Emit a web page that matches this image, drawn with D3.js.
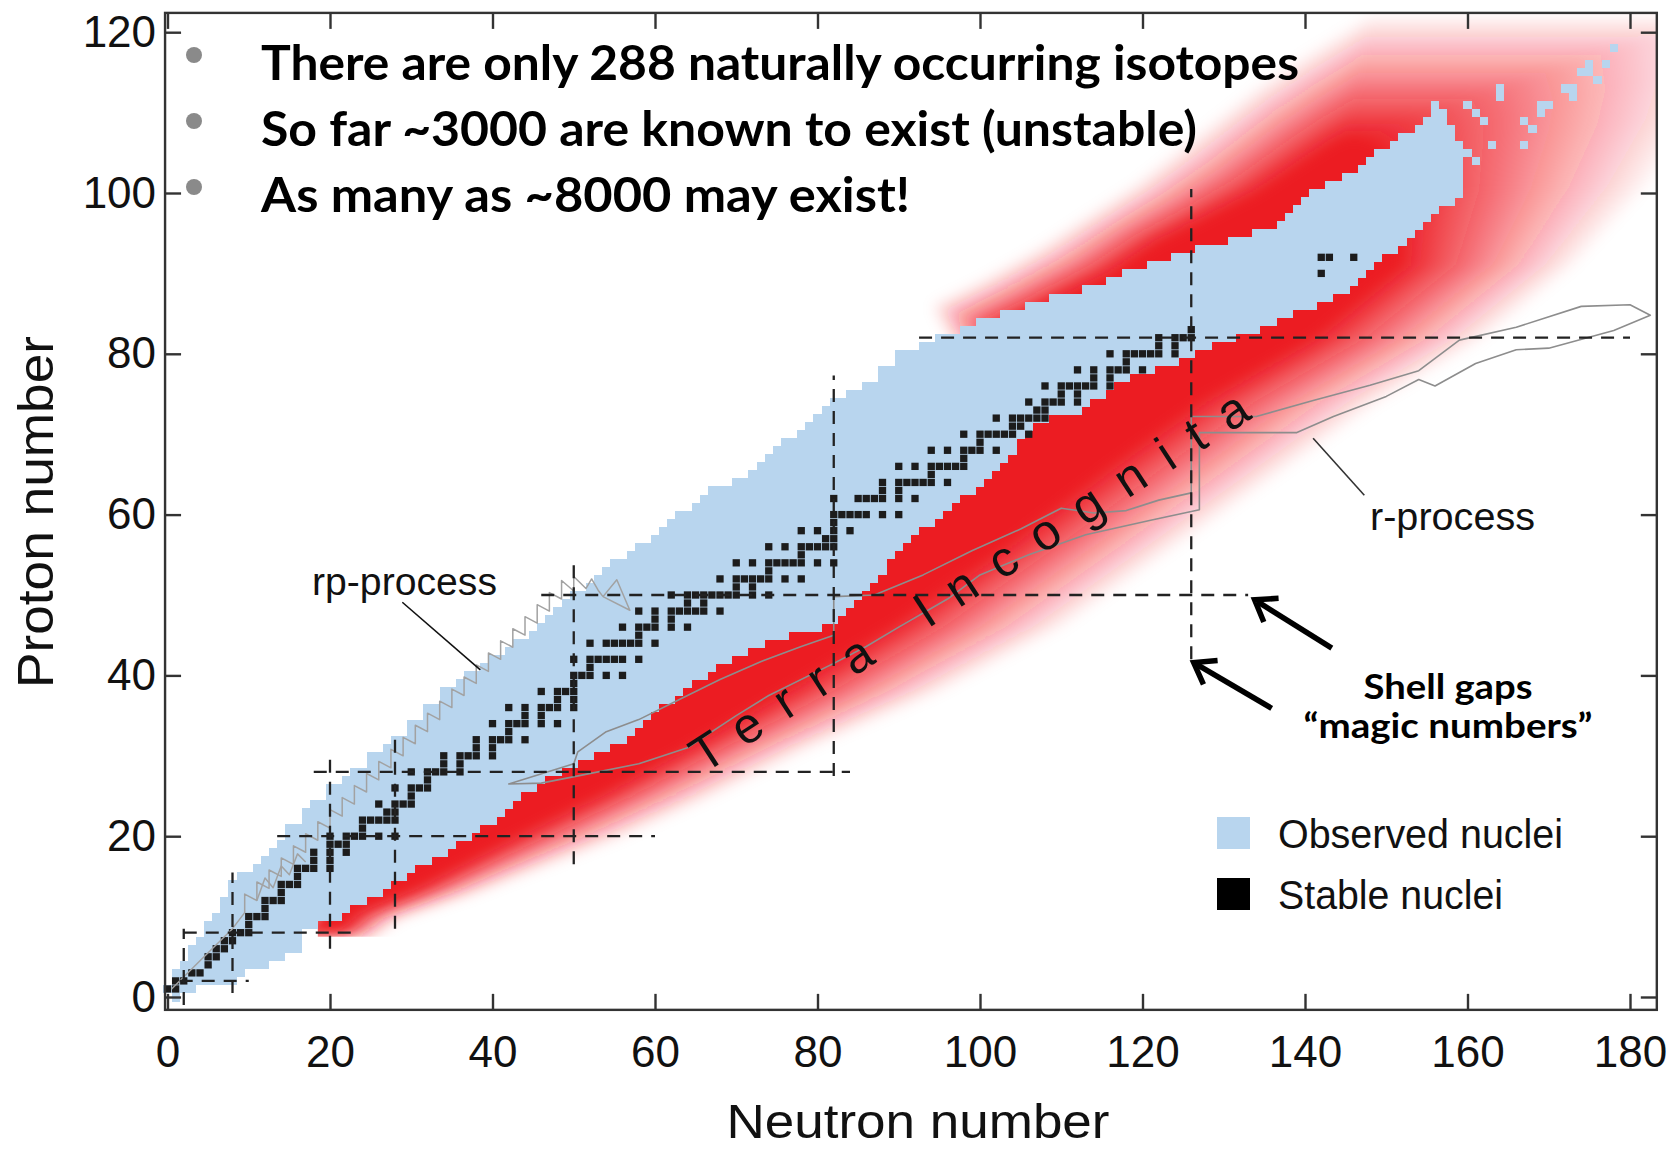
<!DOCTYPE html>
<html>
<head>
<meta charset="utf-8">
<title>Chart of nuclides</title>
<script src="https://cdn.jsdelivr.net/npm/d3@7"></script>
<style>
html,body{margin:0;padding:0;background:#fff;}
svg{display:block;}
</style>
</head>
<body>
<svg id="chart" width="1672" height="1149"></svg>
<script>
// ---------------- data ----------------
const xTicks = [0, 20, 40, 60, 80, 100, 120, 140, 160, 180];
const yTicks = [0, 20, 40, 60, 80, 100, 120];

// Observed nuclei: lightest / heaviest neutron number for each proton number Z = 0..110
const obsNmin = [
  1, 0, 1, 1, 2, 3, 3, 4, 5, 5,
  6, 7, 7, 8, 8, 9, 11, 12, 13, 14,
  15, 15, 17, 17, 18, 20, 20, 22, 23, 25,
  25, 27, 28, 30, 30, 32, 32, 34, 34, 36,
  37, 39, 40, 42, 43, 45, 46, 47, 48, 49,
  50, 52, 53, 54, 55, 57, 58, 60, 61, 62,
  63, 65, 66, 67, 70, 72, 73, 74, 75, 76,
  78, 79, 80, 81, 82, 84, 86, 88, 88, 90,
  90, 93, 95, 98, 100, 103, 106, 109, 113, 116,
  118, 121, 124, 127, 131, 134, 137, 138, 139, 140,
  141, 143, 145, 147, 148, 149, 151, 152, 154, 155,
  157
];
const obsNmax = [
  1, 3, 8, 9, 12, 14, 16, 16, 16, 18,
  21, 22, 24, 26, 27, 29, 30, 32, 34, 35,
  37, 38, 40, 41, 42, 43, 45, 46, 48, 50,
  52, 54, 56, 57, 58, 59, 60, 62, 63, 64,
  66, 67, 69, 71, 73, 76, 80, 82, 83, 84,
  85, 86, 87, 88, 88, 89, 90, 91, 92, 94,
  95, 96, 97, 99, 100, 101, 102, 103, 104, 104,
  105, 106, 108, 112, 113, 115, 116, 118, 121, 124,
  126, 128, 131, 134, 136, 138, 141, 143, 145, 146,
  147, 148, 149, 151, 152, 153, 154, 155, 156, 158,
  159, 159, 159, 159, 159, 160, 159, 158, 158, 157,
  157
];
// isolated observed nuclides among the superheavies
const obsExtraN = [156, 156, 160, 161, 162, 161, 163, 164, 164, 167, 167, 168, 169, 170, 169, 172, 173, 173, 174, 175, 175, 176, 177, 178];
const obsExtraZ = [110, 111, 111, 110, 109, 104, 106, 112, 113, 109, 106, 108, 111, 111, 110, 113, 113, 112, 115, 115, 116, 114, 116, 118];

// Stable and primordial nuclides: neutron numbers, indexed by Z
const stableN = [
  [], [0, 1], [1, 2], [3, 4], [5], [5, 6], [6, 7], [7, 8], [8, 9, 10], [10],
  [10, 11, 12], [12], [12, 13, 14], [14], [14, 15, 16], [16], [16, 17, 18, 20], [18, 20], [18, 20, 22], [20, 21, 22],
  [20, 22, 23, 24, 26, 28], [24], [24, 25, 26, 27, 28], [27, 28], [26, 28, 29, 30], [30], [28, 30, 31, 32], [32], [30, 32, 33, 34, 36], [34, 36],
  [34, 36, 37, 38, 40], [38, 40], [38, 40, 41, 42, 44], [42], [40, 42, 43, 44, 46, 48], [44, 46], [42, 44, 46, 47, 48, 50], [48, 50], [46, 48, 49, 50], [50],
  [50, 51, 52, 54, 56], [52], [50, 52, 53, 54, 55, 56, 58], [], [52, 54, 55, 56, 57, 58, 60], [58], [56, 58, 59, 60, 62, 64], [60, 62], [58, 60, 62, 63, 64, 65, 66, 68], [64, 66],
  [62, 64, 65, 66, 67, 68, 69, 70, 72, 74], [70, 72], [68, 70, 71, 72, 73, 74, 76, 78], [74], [70, 72, 74, 75, 76, 77, 78, 80, 82], [78], [74, 76, 78, 79, 80, 81, 82], [81, 82], [78, 80, 82, 84], [82],
  [82, 83, 84, 85, 86, 88, 90], [], [82, 85, 86, 87, 88, 90, 92], [88, 90], [88, 90, 91, 92, 93, 94, 96], [94], [90, 92, 94, 95, 96, 97, 98], [98], [94, 96, 98, 99, 100, 102], [100],
  [98, 100, 101, 102, 103, 104, 106], [104, 105], [102, 104, 105, 106, 107, 108], [107, 108], [106, 108, 109, 110, 112], [110, 112], [108, 110, 111, 112, 113, 114, 116], [114, 116], [112, 114, 116, 117, 118, 120], [118],
  [116, 118, 119, 120, 121, 122, 124], [122, 124], [122, 124, 125, 126], [126], [], [], [], [], [], [],
  [142], [], [142, 143, 146]
];

// Shell closures (magic numbers): horizontal lines at Z, vertical lines at N
const magicHZ = [2, 8, 20, 28, 50, 82];
const magicHFrom = [1.5, 2, 13.5, 18, 46, 92.5];
const magicHTo = [10, 23.5, 60, 84, 133, 180];
const magicVN = [2, 8, 20, 28, 50, 82, 126];
const magicVFrom = [-1, 0.5, 6, 8.5, 16.5, 27.5, 42];
const magicVTo = [8.5, 15.5, 30.5, 33, 54.5, 77.3, 100.5];

// Predicted bound nuclei: edge of the solid core and edge where it has faded out, [N, Z]
const coreEdge = [
  [21, 7.5], [23, 10], [30, 13], [43, 20], [53, 25], [64, 31], [76, 38], [89, 46], [103, 56], [116, 66],
  [127, 74], [141, 82], [152, 91], [152, 100], [150, 105], [149, 106], [147, 107], [145, 107],
  [143, 106], [140, 104], [137, 102], [134, 100], [128, 97], [122, 94], [116, 90], [108, 86], [102, 83], [104, 80],
  [100, 78], [88, 66], [72, 55], [56, 43], [42, 31], [30, 21], [21, 13], [16, 7.5]
];
const fadeEdge = [
  [25.5, 7.5], [29, 10], [38, 13], [56, 20], [67, 25], [79, 31], [95, 38], [110, 46], [124, 56], [138, 66],
  [149, 74], [162, 82], [173, 91], [182, 101], [188, 110], [190, 116], [190, 122], [148, 122],
  [140, 117], [134, 113], [129, 109], [124, 105], [119, 101], [113, 97], [107, 93], [100, 89], [94, 86], [96, 82],
  [100, 78], [88, 66], [72, 55], [56, 43], [42, 31], [30, 21], [21, 13], [16, 7.5]
];
// lower cut of the predicted region
const redCut = [[18.5, 7.5], [200, 7.5], [200, 130], [-5, 130], [-5, 9.5], [18.5, 9.5]];

// r-process band outline, [N, Z]
const rProcess = [
  [42, 26.5], [50, 29], [50.5, 30.5], [54, 33], [58, 34.5], [63, 37], [68, 39.5], [73, 41.7], [78, 43.6], [82, 45],
  [82, 49.8], [87, 50], [93, 52.5], [99, 55.5], [105, 58.2], [110, 60.8], [114, 60.2], [118, 60.5], [122, 61.8], [126, 62.7],
  [126, 72.2], [134, 72.2], [141, 74.2], [148, 76.1], [154, 77.9], [159, 81.7], [166, 83.3], [174, 85.9], [180, 86.1], [182.5, 84.8],
  [178, 82.9], [170, 80.7], [166, 80.5], [161, 78.8], [156, 76], [154, 76.8], [150, 74.7], [143.5, 72.2], [139, 70.2], [127, 70.2],
  [127, 60.6], [121, 59.3], [113, 57.5], [106, 55], [100, 52.5], [96, 49.5], [90, 46], [86, 43.6], [82, 41.5], [74, 37.5],
  [70, 35], [64, 31], [58, 29], [51, 27.6], [46, 26.6]
];

// rp-process path, [N, Z]
const rpProcess = [
  [0.5, 1], [4, 4.5], [8, 8.5], [9.5, 10.5], [9.5, 12.8], [11, 12], [11, 14.3], [12.5, 13.5], [12.5, 15.8], [14, 15],
  [14, 17.3], [15.5, 16.5], [15.5, 18.8], [17, 18], [17, 20.3], [18.5, 19.5], [18.5, 21.8], [20, 21], [20, 23.3], [21.5, 22.5],
  [21.5, 24.8], [23, 24], [23, 26.3], [24.5, 25.5], [24.5, 27.8], [26, 27], [26, 29.3], [27.5, 28.5], [27.5, 30.8], [29, 30],
  [29, 32.3], [30.5, 31.5], [30.5, 33.8], [32, 33], [32, 35.3], [33.5, 34.5], [33.5, 36.8], [35, 36], [35, 38.3], [36.5, 37.5],
  [36.5, 39.8], [38, 39], [38, 41.3], [39.5, 40.5], [39.5, 42.8], [41, 42], [41, 44.3], [42.5, 43.5], [42.5, 45.8], [44, 45],
  [44, 47.3], [45.5, 46.5], [45.5, 48.8], [47, 48], [47, 50.3], [48.5, 49.5], [48.5, 51.8], [50, 50.5], [50, 52.3], [51.5, 50.8],
  [52.2, 52], [53, 50.6], [53.6, 49.8]
];
// side branch of the rp path among the light nuclei
const rpBranch = [[11, 12], [12, 14.8], [13, 13.6], [14, 16.3], [15, 15.2], [16, 17.8], [17, 16.8]];
const rpLoop = [[53.6, 49.8], [55.3, 51.9], [56.9, 48.1], [53.6, 49.8]];

// annotation arrows (shell gaps), [N, Z]
const arrowTail = [[143.3, 43.4], [135.9, 35.9]];
const arrowTip = [[133.8, 49.4], [126.3, 41.6]];

// leader lines for the process labels, [N, Z]
const rpLeader = [[28.9, 49.1], [38.5, 40.7]];
const rLeader = [[141, 69.5], [147.3, 62.4]];

const bullets = [
  "There are only 288 naturally occurring isotopes",
  "So far ~3000 are known to exist (unstable)",
  "As many as ~8000 may exist!"
];
const legendLabels = ["Observed nuclei", "Stable nuclei"];

// ---------------- drawing ----------------
const W = 1672, H = 1149;
const BLUE = "#b8d5ee", RED = "#ec1c24", BLACK = "#1c1c1c";
const SANS = "'Liberation Sans', Arial, Helvetica, sans-serif";
const BOLD = "Lato, 'Open Sans', sans-serif";

const svg = d3.select("#chart");
const x = d3.scaleLinear().domain([0, 180]).range([167.5, 1630]);
const y = d3.scaleLinear().domain([0, 120]).range([997, 32.2]);
const cw = x(1) - x(0), ch = y(0) - y(1);
const frame = { l: x(-0.3), r: x(183.3), t: y(122.4), b: y(-1.6) };

const line = d3.line().x(d => x(d[0])).y(d => y(d[1]));

const defs = svg.append("defs");
defs.append("clipPath").attr("id", "plotClip")
  .append("rect").attr("x", frame.l).attr("y", frame.t)
  .attr("width", frame.r - frame.l).attr("height", frame.b - frame.t);
defs.append("clipPath").attr("id", "redClip")
  .append("path").attr("d", line(redCut) + "Z");
const soft = defs.append("filter").attr("id", "soft")
  .attr("filterUnits", "userSpaceOnUse")
  .attr("x", 0).attr("y", 0).attr("width", W).attr("height", H);
soft.append("feGaussianBlur").attr("stdDeviation", 7);

svg.append("rect").attr("width", W).attr("height", H).attr("fill", "#fff");

// predicted-bound region: stacked rings give a linear fade from core to outer edge
const redG = svg.append("g").attr("clip-path", "url(#plotClip)")
  .append("g").attr("clip-path", "url(#redClip)")
  .append("g").attr("filter", "url(#soft)");
const K = 20;
for (let i = 0; i < K; i++) {
  const t = 1 - i / (K - 1);
  const ring = coreEdge.map((c, j) => [
    c[0] + (fadeEdge[j][0] - c[0]) * t,
    c[1] + (fadeEdge[j][1] - c[1]) * t
  ]);
  redG.append("path").attr("d", line(ring) + "Z")
    .attr("fill", RED).attr("fill-opacity", 1 / (K - i));
}

// observed nuclei
const obsRows = obsNmin.map((n, z) => ({ z, n0: n, n1: obsNmax[z] }));
const blueG = svg.append("g").attr("shape-rendering", "crispEdges");
blueG.selectAll("rect.row").data(obsRows).join("rect").attr("class", "row")
  .attr("x", d => x(d.n0 - 0.5))
  .attr("width", d => x(d.n1 + 0.5) - x(d.n0 - 0.5))
  .attr("y", d => y(d.z + 0.5))
  .attr("height", ch + 0.5)
  .attr("fill", BLUE);
blueG.selectAll("rect.extra").data(obsExtraN.map((n, i) => [n, obsExtraZ[i]])).join("rect").attr("class", "extra")
  .attr("x", d => x(d[0] - 0.5)).attr("y", d => y(d[1] + 0.5))
  .attr("width", cw).attr("height", ch)
  .attr("fill", BLUE);

// stable nuclei
const stable = [];
stableN.forEach((ns, z) => ns.forEach(n => stable.push([n, z])));
const s = 7.3;
svg.append("g").selectAll("rect").data(stable).join("rect")
  .attr("x", d => x(d[0]) - s / 2).attr("y", d => y(d[1]) - s / 2)
  .attr("width", s).attr("height", s)
  .attr("fill", BLACK);

// r-process band and rp-process path
svg.append("path").attr("d", line(rProcess) + "Z")
  .attr("fill", "none").attr("stroke", "#8d8d8d").attr("stroke-width", 1.6)
  .attr("stroke-linejoin", "round");
const rpG = svg.append("g").attr("fill", "none").attr("stroke", "#a2a2a2")
  .attr("stroke-width", 1.5).attr("stroke-linejoin", "round");
rpG.append("path").attr("d", line(rpProcess));
rpG.append("path").attr("d", line(rpBranch));
rpG.append("path").attr("d", line(rpLoop));

// shell closures
const dashG = svg.append("g").attr("stroke", "#222").attr("stroke-width", 2.3)
  .attr("stroke-dasharray", "13,9").attr("fill", "none");
magicHZ.forEach((z, i) => dashG.append("line")
  .attr("x1", x(magicHFrom[i])).attr("x2", x(magicHTo[i]))
  .attr("y1", y(z)).attr("y2", y(z)));
magicVN.forEach((n, i) => dashG.append("line")
  .attr("x1", x(n)).attr("x2", x(n))
  .attr("y1", y(magicVFrom[i])).attr("y2", y(magicVTo[i])));

// frame and axes (ticks point inward)
const AX = "#333";
svg.append("rect").attr("x", frame.l).attr("y", frame.t)
  .attr("width", frame.r - frame.l).attr("height", frame.b - frame.t)
  .attr("fill", "none").attr("stroke", AX).attr("stroke-width", 2.4);

function styleAxis(g) {
  g.select(".domain").remove();
  g.selectAll(".tick line").attr("stroke", AX).attr("stroke-width", 2.4);
  g.selectAll(".tick text").attr("font-family", SANS).attr("font-size", 44).attr("fill", "#111");
}
svg.append("g").attr("transform", `translate(0,${frame.b})`)
  .call(d3.axisBottom(x).tickValues(xTicks).tickSize(-16).tickPadding(26).tickFormat(d3.format("d")))
  .call(styleAxis);
svg.append("g").attr("transform", `translate(0,${frame.t})`)
  .call(d3.axisTop(x).tickValues(xTicks).tickSize(-16).tickFormat(() => ""))
  .call(styleAxis);
svg.append("g").attr("transform", `translate(${frame.l},0)`)
  .call(d3.axisLeft(y).tickValues(yTicks).tickSize(-16).tickPadding(9).tickFormat(d3.format("d")))
  .call(styleAxis);
svg.append("g").attr("transform", `translate(${frame.r},0)`)
  .call(d3.axisRight(y).tickValues(yTicks).tickSize(-16).tickFormat(() => ""))
  .call(styleAxis);

// axis titles
svg.append("text").attr("x", 918).attr("y", 1138)
  .attr("text-anchor", "middle").attr("font-family", SANS).attr("font-size", 48)
  .attr("fill", "#111").attr("textLength", 383).attr("lengthAdjust", "spacingAndGlyphs")
  .text("Neutron number");
svg.append("text").attr("transform", "translate(53,512) rotate(-90)")
  .attr("text-anchor", "middle").attr("font-family", SANS).attr("font-size", 50)
  .attr("fill", "#111").attr("textLength", 352).attr("lengthAdjust", "spacingAndGlyphs")
  .text("Proton number");

// process labels and leaders
svg.append("text").attr("x", 312).attr("y", 595)
  .attr("font-family", SANS).attr("font-size", 39).attr("fill", "#111")
  .attr("textLength", 185).attr("lengthAdjust", "spacingAndGlyphs").text("rp-process");
svg.append("path").attr("d", line(rpLeader)).attr("stroke", "#111").attr("stroke-width", 1.6);
svg.append("text").attr("x", 1370).attr("y", 530)
  .attr("font-family", SANS).attr("font-size", 39).attr("fill", "#111")
  .attr("textLength", 165).attr("lengthAdjust", "spacingAndGlyphs").text("r-process");
svg.append("path").attr("d", line(rLeader)).attr("stroke", "#333").attr("stroke-width", 1.6);

// Terra Incognita
svg.append("text").attr("transform", "translate(704,774) rotate(-33)")
  .attr("font-family", SANS).attr("font-size", 50).attr("fill", "#111")
  .attr("textLength", 655).attr("lengthAdjust", "spacing")
  .text("Terra Incognita");

// shell-gap arrows
arrowTip.forEach((tip, i) => {
  const tx = x(tip[0]), ty = y(tip[1]);
  const sx = x(arrowTail[i][0]), sy = y(arrowTail[i][1]);
  const ang = Math.atan2(ty - sy, tx - sx), L = 24, a = 0.62;
  svg.append("line").attr("x1", sx).attr("y1", sy).attr("x2", tx - 3 * Math.cos(ang)).attr("y2", ty - 3 * Math.sin(ang))
    .attr("stroke", "#000").attr("stroke-width", 5.5);
  svg.append("path")
    .attr("d", `M${tx - L * Math.cos(ang - a)},${ty - L * Math.sin(ang - a)}L${tx},${ty}L${tx - L * Math.cos(ang + a)},${ty - L * Math.sin(ang + a)}`)
    .attr("fill", "none").attr("stroke", "#000").attr("stroke-width", 5.5).attr("stroke-linejoin", "miter");
});
svg.append("text").attr("x", 1448).attr("y", 699).attr("text-anchor", "middle")
  .attr("font-family", BOLD).attr("font-weight", 700).attr("font-size", 35).attr("fill", "#000")
  .attr("textLength", 169).attr("lengthAdjust", "spacingAndGlyphs").text("Shell gaps");
svg.append("text").attr("x", 1448).attr("y", 738).attr("text-anchor", "middle")
  .attr("font-family", BOLD).attr("font-weight", 700).attr("font-size", 35).attr("fill", "#000")
  .attr("textLength", 289).attr("lengthAdjust", "spacingAndGlyphs").text("\u201Cmagic numbers\u201D");

// legend
const legColors = [BLUE, "#000"];
const legWidths = [285, 225];
legendLabels.forEach((lab, i) => {
  const ly = 817 + i * 61;
  svg.append("rect").attr("x", 1217).attr("y", ly).attr("width", 33).attr("height", 32).attr("fill", legColors[i]);
  svg.append("text").attr("x", 1278).attr("y", ly + 31)
    .attr("font-family", SANS).attr("font-size", 40).attr("fill", "#111")
    .attr("textLength", legWidths[i]).attr("lengthAdjust", "spacingAndGlyphs").text(lab);
});

// bullet notes
const bulletWidths = [1038, 936, 649];
bullets.forEach((b, i) => {
  const by = 80 + i * 66;
  svg.append("circle").attr("cx", 194).attr("cy", by - 25).attr("r", 8).attr("fill", "#8a8a8a");
  svg.append("text").attr("x", 261).attr("y", by)
    .attr("font-family", BOLD).attr("font-weight", 700).attr("font-size", 48).attr("fill", "#000")
    .attr("textLength", bulletWidths[i]).attr("lengthAdjust", "spacingAndGlyphs").text(b);
});
</script>
</body>
</html>
